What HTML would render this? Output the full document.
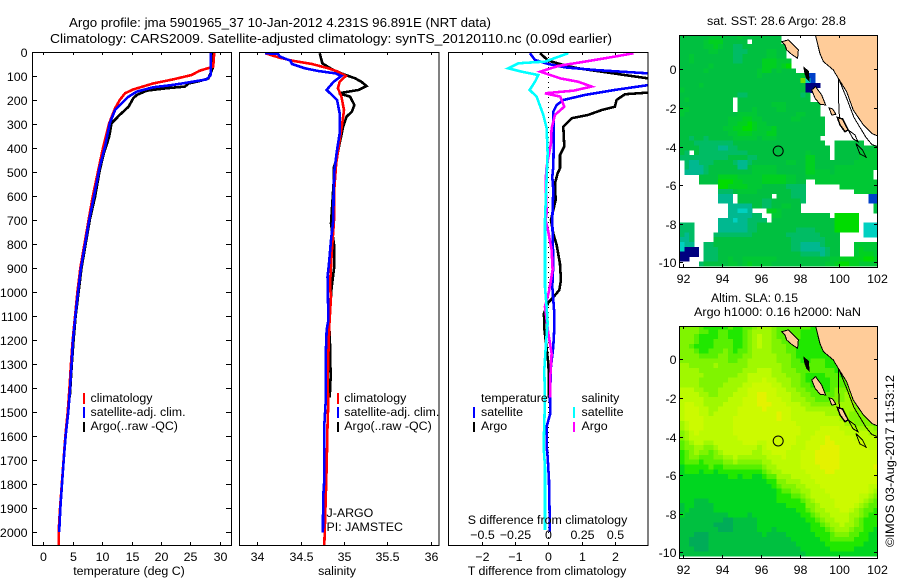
<!DOCTYPE html>
<html lang="en">
<head>
<meta charset="utf-8">
<title>Argo profile jma 5901965_37</title>
<style>
html,body{margin:0;padding:0;background:#fff;}
#chart{display:block;position:absolute;left:0;top:0;}
text{font-family:"Liberation Sans",sans-serif;font-size:12.4px;fill:#000;}
.frame{fill:none;stroke:#000;stroke-width:1;shape-rendering:crispEdges;}
.prof{fill:none;stroke-width:2.6;shape-rendering:crispEdges;stroke-linejoin:miter;}
.bar{shape-rendering:crispEdges;}
.tick{stroke:#000;stroke-width:1;shape-rendering:crispEdges;}
</style>
</head>
<body>
<svg id="chart" width="900" height="580" viewBox="0 0 900 580" xmlns="http://www.w3.org/2000/svg">
  <defs>
    <clipPath id="clip-t"><rect x="32" y="52" width="199" height="493"/></clipPath>
    <clipPath id="clip-s"><rect x="240" y="52" width="199" height="493"/></clipPath>
    <clipPath id="clip-d"><rect x="449" y="52" width="199" height="493"/></clipPath>
    <clipPath id="clip-m1"><rect x="679.5" y="35" width="198" height="232"/></clipPath>
    <clipPath id="clip-m2"><rect x="679.5" y="326" width="198" height="232"/></clipPath>
  </defs>
  <rect x="0" y="0" width="900" height="580" fill="#fff"/>
  <text x="69" y="27" style="font-size:13px" textLength="422" lengthAdjust="spacingAndGlyphs">Argo profile: jma 5901965_37 10-Jan-2012 4.231S 96.891E (NRT data)</text>
  <text x="50" y="43" style="font-size:13px" textLength="562" lengthAdjust="spacingAndGlyphs">Climatology: CARS2009. Satellite-adjusted climatology: synTS_20120110.nc (0.09d earlier)</text>

  <g id="panel-t"></g>
  <g id="panel-s"></g>
  <g id="panel-d"></g>
  <g id="panel-m1"></g>
  <g id="panel-m2"></g>

  <g>
    <rect class="bar" x="83" y="393" width="2" height="11" fill="#f00"/>
    <text x="90.5" y="402">climatology</text>
    <rect class="bar" x="83" y="407" width="2" height="11" fill="#00f"/>
    <text x="90.5" y="416">satellite-adj. clim.</text>
    <rect class="bar" x="83" y="422" width="2" height="10" fill="#000"/>
    <text x="90.5" y="430">Argo(..raw -QC)</text>
  </g>
  <g>
    <rect class="bar" x="337" y="393" width="2" height="11" fill="#f00"/>
    <text x="344.3" y="402">climatology</text>
    <rect class="bar" x="337" y="407" width="2" height="11" fill="#00f"/>
    <text x="344.3" y="416">satellite-adj. clim.</text>
    <rect class="bar" x="337" y="422" width="2" height="10" fill="#000"/>
    <text x="344.3" y="430">Argo(..raw -QC)</text>
    <text x="326.5" y="517">J-ARGO</text>
    <text x="326.5" y="531">PI: JAMSTEC</text>
  </g>
  <g>
    <text x="481" y="402">temperature</text>
    <rect class="bar" x="473" y="407" width="2" height="11" fill="#00f"/>
    <text x="481" y="416">satellite</text>
    <rect class="bar" x="473" y="422" width="2" height="10" fill="#000"/>
    <text x="481" y="430">Argo</text>
    <text x="581.5" y="402">salinity</text>
    <rect class="bar" x="573" y="407" width="2" height="11" fill="#0ff"/>
    <text x="581.5" y="416">satellite</text>
    <rect class="bar" x="573" y="422" width="2" height="10" fill="#f0f"/>
    <text x="581.5" y="430">Argo</text>
  </g>

  <text x="129" y="575" text-anchor="middle">temperature (deg C)</text>
  <text x="337" y="575" text-anchor="middle">salinity</text>
  <text x="547" y="575" text-anchor="middle">T difference from climatology</text>
  <text x="547.5" y="524" text-anchor="middle">S difference from climatology</text>
  <text x="707" y="25" textLength="139" lengthAdjust="spacingAndGlyphs">sat. SST: 28.6 Argo: 28.8</text>
  <text x="711" y="302" textLength="87" lengthAdjust="spacingAndGlyphs">Altim. SLA: 0.15</text>
  <text x="694" y="316" textLength="167" lengthAdjust="spacingAndGlyphs">Argo h1000: 0.16 h2000: NaN</text>
  <text transform="translate(894,547) rotate(-90)" textLength="172" lengthAdjust="spacingAndGlyphs">©IMOS 03-Aug-2017 11:53:12</text>
</svg>

<script>
const depthTicks = [0,100,200,300,400,500,600,700,800,900,1000,1100,1200,1300,1400,1500,1600,1700,1800,1900,2000];
const tempTicks = [0,5,10,15,20,25,30];
const salTicks = [34,34.5,35,35.5,36];
const tDiffTicks = [-2,-1,0,1,2];
const sDiffTicks = [-0.5,-0.25,0,0.25,0.5];
const lonTicks = [92,94,96,98,100,102];
const latTicks = [0,-2,-4,-6,-8,-10];
const floatLon = [96.891];
const floatLat = [-4.231];

const tempClimDepth = [0,61,78,96,114,131,156,172,200,235,297,394,492,603,700,800,900,1000,1100,1200,1300,1400,1500,1600,1700,1800,1900,2000,2054];
const tempClimVal = [29.08,28.9,26.6,25.2,22.1,18.7,15.3,13.9,13,12.2,11.2,10.2,9.35,8.4,7.7,7,6.3,5.8,5.4,5,4.7,4.45,4.15,3.75,3.45,3.15,2.85,2.6,2.6];
const tempSatDepth = [0,96,114,121,137,147,165,186,214,242,297,394,478,603,700,800,900,1000,1100,1200,1300,1400,1500,1600,1700,1800,1900,2000];
const tempSatVal = [28.46,28.46,27.8,26.1,22.1,18.7,15.9,14.5,13.3,12.2,11.3,10.5,9.6,8.6,7.8,7.1,6.4,5.9,5.45,5.05,4.8,4.55,4.25,3.8,3.47,3.18,2.9,2.7];
const tempArgoDepth = [0,68,110,121,131,144,151,161,179,193,228,262,297,353,422,492,603,700,800,900,1000,1100,1200,1300,1440];
const tempArgoVal = [28.8,28.8,28.06,26.6,24.7,24.1,21,17.6,15.9,15.3,14.5,13,11.6,11.2,10.3,9.6,8.8,7.9,7.2,6.5,6,5.5,5.15,4.85,4.5];

const salClimDepth = [5,22,36,50,68,82,100,124,151,186,242,297,367,464,561,700,839,978,1019,1144,1256,1394,1450,1554,1728,1853,2054];
const salClimVal = [34.09,34.24,34.4,34.63,34.82,34.93,35.02,34.95,34.93,34.97,35,34.98,34.95,34.91,34.89,34.885,34.858,34.838,34.85,34.83,34.82,34.81,34.82,34.81,34.8,34.79,34.773];
const salSatDepth = [5,8,19,36,50,68,79,89,100,124,158,172,200,256,339,408,492,575,700,783,881,936,1117,1158,1256,1450,1554,1783,1853,2003];
const salSatVal = [34.09,34.24,34.26,34.38,34.4,34.55,34.7,34.9,34.97,34.88,34.8,34.84,34.92,34.95,34.95,34.92,34.89,34.88,34.877,34.85,34.827,34.81,34.82,34.8,34.79,34.79,34.773,34.773,34.76,34.757];
const salArgoDepth = [5,47,72,92,110,124,142,158,172,186,221,249,269,311,381,436,485,547,714,811,894,978,1117,1214,1353,1440];
const salArgoVal = [34.72,34.75,34.86,34.99,35.13,35.2,35.26,35.17,34.94,35.07,35.12,35.09,35.03,34.99,34.95,34.92,34.88,34.88,34.85,34.888,34.888,34.858,34.827,34.838,34.846,34.835];

const dTSatDepth = [5,33,50,64,75,89,110,138,158,179,200,221,249,339,478,520,575,700,881,978,1089,1151,1228,1311,1443,1506,1561,1644,1686,1783,1999];
const dTSatVal = [-0.55,-0.4,0,0.5,1.4,3,4.5,3,2,1.1,0.45,0.25,0.15,0.17,0.15,0.12,0.15,0.12,0.15,0.12,0.18,0.18,0.15,0.08,0.05,0.06,-0.05,-0.05,-0.02,0.02,0.05];
const dTArgoDepth = [5,36,58,68,90,130,169,176,200,228,242,262,276,311,394,429,485,506,547,617,700,756,804,881,950,992,1022,1044,1089,1151,1297,1353,1440];
const dTArgoVal = [-0.25,0,0.55,0.9,2,4,3,2.3,2.05,2,1.6,1.2,0.7,0.45,0.48,0.35,0.35,0.28,0.2,0.22,0.08,0.15,0.25,0.35,0.38,0.33,0.15,0,-0.13,-0.12,0,0.02,0.02];
const dSSatDepth = [5,40,47,68,82,96,124,158,186,262,318,422,561,700,978,1061,1130,1214,1325,1450,1547,1644,1728,1992];
const dSSatVal = [0.15,-0.025,-0.225,-0.3,-0.2,-0.075,-0.1,-0.14,-0.0875,-0.0375,-0.0125,-0.005,-0.015,-0.025,-0.025,-0.0125,-0.005,-0.0175,-0.03,-0.025,-0.03,-0.035,-0.025,-0.025];
const dSArgoDepth = [5,19,40,58,82,110,124,144,161,172,186,228,262,318,381,478,533,672,700,749,825,908,998,1061,1172,1256,1353,1440];
const dSArgoVal = [0.64,0.5,0.275,0.075,-0.06,0.09,0.225,0.325,0.19,-0.025,0.09,0.12,0.05,0.025,0.02,-0.0125,-0.02,-0.0125,-0.02,0,0.025,0.0325,0.005,-0.025,0,0.025,0.015,0.015];

const _ = null;
const sstColours = ["#000080","#0040c8","#00d0c0","#00b890","#00bc64","#00c040","#00c834","#00d020","#00dc00","#70e000"];
const slaColours = ["#00ac58","#00c040","#00d620","#20e800","#58f000","#80f400","#a0f800","#bcfb00","#ccfa00","#e4f200"];

const sstGrid = [
[5,5,5,5,5,5,6,6,6,5,5,5,6,5,5,5,5,5,5,5,5],
[5,5,5,5,5,6,7,7,7,5,5,5,5,5,_,5,5,5,5,5,5],
[5,5,5,5,5,6,6,7,6,5,5,4,4,5,5,5,5,5,5,5,5,5],
[5,5,5,5,5,5,6,6,5,5,5,4,4,4,5,5,5,5,6,6,5,5],
[5,5,6,5,5,5,5,5,5,5,5,4,4,5,5,5,5,5,6,6,5,5],
[5,5,6,5,5,5,5,5,5,5,5,4,4,5,5,5,5,7,7,7,6,6,6],
[5,5,5,5,5,5,6,5,5,5,5,5,5,5,5,5,5,7,7,7,6,7,8],
[5,5,5,5,5,6,5,5,5,5,5,5,5,5,5,5,6,7,7,5,6,5,5,5],
[5,5,5,5,5,5,5,5,5,5,5,5,5,5,5,5,6,5,5,5,5,5,5,5,5,6,1,1],
[5,5,5,5,5,5,5,5,5,5,5,5,5,5,5,5,5,5,5,5,5,5,5,5,5,9,2,1],
[5,5,5,5,6,5,5,5,5,5,5,5,5,5,5,5,5,5,5,5,5,5,5,5,5,5,0,0,0],
[6,5,5,5,5,5,5,5,5,5,5,5,5,5,5,5,5,5,5,5,5,5,5,5,5,5,0,0],
[5,5,5,5,5,5,5,5,5,5,5,5,4,4,5,5,5,5,5,5,5,5,5,5,5,4,5],
[5,6,5,5,5,5,5,5,5,5,5,_,5,5,5,5,5,5,5,5,5,5,5,5,5,5,5],
[5,5,5,5,5,5,5,5,5,5,5,_,5,5,5,5,5,5,5,6,6,6,5,5,5,5,5,5,5],
[6,6,5,5,5,5,5,5,5,5,5,_,5,5,5,6,5,5,5,5,6,6,5,5,5,5,5,5,5],
[6,5,5,5,5,5,5,5,5,5,5,5,6,6,6,6,5,5,5,5,5,5,5,5,6,6,5,5,5],
[5,5,5,5,5,5,5,5,5,5,6,6,6,7,7,6,6,5,5,5,5,5,5,6,6,5,5,5,5,5],
[5,5,5,5,5,5,5,5,5,5,6,6,7,7,8,7,6,6,5,5,5,5,5,5,5,5,5,5,5,5],
[5,5,5,5,5,5,5,5,5,6,6,7,7,8,8,7,6,6,6,7,5,5,5,5,5,5,5,5,5,5],
[5,5,5,5,5,5,5,5,5,5,6,6,7,7,7,6,6,6,7,7,5,5,5,5,5,5,5,5,5,5],
[5,5,4,5,5,4,5,5,5,5,5,6,6,6,6,6,5,6,6,6,5,5,5,5,5,5,5,5,5],
[5,5,5,4,4,4,4,4,4,4,4,5,5,5,5,5,5,5,5,5,5,5,5,5,5,5,5,5,5,5,_,_,5,5,5,5,5,5],
[5,5,5,5,4,4,4,4,3,3,4,4,5,5,5,5,5,5,5,5,5,5,5,5,5,5,5,5,5,5,5,_,5,5,5,5,5,5,5,5,6],
[5,4,_,5,4,4,4,4,4,4,4,4,4,4,5,5,5,5,5,5,5,5,5,5,5,5,6,5,5,5,5,_,5,5,5,5,5,6,6,6,6],
[4,4,4,4,4,4,4,4,4,4,5,5,5,5,4,4,5,5,5,5,5,5,5,5,5,5,7,7,5,5,5,_,5,5,5,5,5,6,6,6,6],
[_,4,3,3,4,4,4,5,5,5,5,4,3,3,4,5,5,5,5,5,5,5,6,6,5,5,7,7,5,5,5,5,5,5,5,5,6,6,6,6,6],
[_,4,3,3,3,4,5,5,5,5,5,5,3,3,5,6,6,6,6,6,5,5,5,5,5,5,7,7,5,5,5,5,6,6,6,6,6,6,6,6,6],
[_,3,3,3,3,4,5,5,5,5,5,5,5,5,5,6,6,6,6,6,5,5,5,5,5,5,7,7,6,6,6,5,6,6,6,6,6,6,6,6],
[_,_,_,_,5,5,5,5,7,7,7,7,6,6,6,6,6,7,7,7,7,7,6,6,5,5,6,6,6,6,6,6,6,6,6,6,6,6,6,6],
[_,_,_,_,5,5,5,5,8,8,8,7,7,6,6,6,6,7,7,7,7,7,6,6,5,5,_,_,6,6,6,6,6,6,6,6,6,6,6,6,6],
[_,_,_,_,_,_,_,_,8,8,7,7,7,7,6,6,6,5,5,5,5,5,4,4,4,4,_,_,_,_,_,_,_,6,6,6,6,6,6,6,6],
[_,_,_,_,_,_,_,_,4,4,4,5,6,6,6,6,5,5,5,5,5,5,5,4,4,4,_,_,_,_,_,_,_,_,_,_,6,6,6,6,6],
[_,_,_,_,_,_,_,_,3,3,3,_,5,5,5,5,5,5,5,_,5,5,5,4,4,4,_,_,_,_,_,_,_,_,_,_,_,_,_,1,1],
[_,_,_,_,_,_,_,_,3,3,3,_,5,5,5,5,5,4,4,5,5,5,5,5,5,4,_,_,_,_,_,_,_,_,_,_,_,_,_,1,1],
[_,_,_,_,_,_,_,_,_,_,3,3,3,3,3,5,5,4,4,5,5,6,6,5,5,_,_,_,_,_,_,_,_,_,_,_,_,_,_,_,5],
[_,_,_,_,_,_,_,_,_,_,3,3,2,2,3,_,_,_,7,7,6,5,5,5,5,_,_,_,_,_,_,_,_,_,_,_,_,_,_,_,5],
[_,_,_,_,_,_,_,_,_,_,3,3,3,3,3,4,4,_,_,6,6,5,5,5,5,5,5,5,5,5,5,_,8,8,8,8,8],
[_,_,_,_,_,_,_,_,3,3,3,2,3,3,4,4,4,4,_,5,5,5,5,5,5,5,5,5,5,5,5,5,8,8,8,8,8],
[4,4,4,_,_,_,_,_,3,3,3,3,3,3,4,4,5,5,5,5,5,5,5,5,5,5,5,5,5,5,5,5,8,8,8,8,8,_,2,2,2],
[4,4,4,_,_,_,_,_,3,3,3,3,3,3,4,4,5,5,5,5,5,5,5,5,4,4,4,4,5,5,5,5,8,8,8,8,8,_,2,2,2],
[4,3,4,_,_,_,_,4,4,4,4,4,4,4,4,5,5,5,5,5,5,5,4,4,4,4,4,4,4,5,5,5,5,_,_,_,_,_,2,2,2],
[3,3,4,_,_,_,_,5,5,5,5,5,5,5,5,5,5,5,5,5,5,5,5,4,4,4,4,4,4,4,5,5,5],
[2,3,3,_,_,4,4,5,5,5,5,5,5,5,5,5,5,5,5,5,5,5,5,4,4,3,3,3,3,4,5,5,5,_,_,_,6,6,6,6,6],
[2,0,0,0,_,4,4,4,5,5,5,5,5,5,5,5,5,5,5,5,5,5,5,4,4,3,3,3,3,3,4,5,5,_,_,_,6,7,6,6,6],
[0,0,0,0,_,4,4,4,5,5,5,5,5,5,5,5,5,5,5,5,5,5,5,5,5,4,4,4,4,3,4,5,5,_,_,_,6,7,7,7,6],
[0,0,_,_,_,4,4,4,5,5,6,5,5,6,6,6,6,6,6,6,5,5,5,5,5,5,5,5,5,5,5,6,6,7,7,7,7,7,8,8,7],
[_,_,_,_,4,5,5,5,5,5,6,6,5,6,7,6,6,6,6,5,5,5,5,5,5,5,5,5,5,5,6,6,7,8,8,7,7,6,6,6,6]
];

const slaGrid = [
[5,5,5,5,4,3,3,3,3,3,4,3,3,4,4,5,6,6,6,5,4,4,4,4,4,4,4,3,3,3,3,3,3,3,3,3,3,3,3,3,3],
[5,5,5,5,4,4,3,3,4,4,3,3,3,4,5,6,6,6,6,5,4,4,4,4,4,3,3,3,3,3,3,3,3,3,3,3,3,3,3,3,3],
[5,5,5,4,3,3,3,3,4,4,3,3,3,4,5,6,7,6,6,5,4,4,4,4,4,3,3,3,3,3,3,3,3,3,3,3,3,3,3,3,3],
[5,5,5,4,3,3,3,4,4,4,4,3,3,4,5,6,7,6,6,5,5,4,4,4,3,3,3,3,3,3,3,3,3,3,3,3,3,3,3,3,3],
[5,5,4,3,3,3,3,4,4,4,4,3,3,4,5,6,7,6,6,5,5,5,4,4,3,3,3,3,3,3,3,3,3,3,3,3,3,3,3,3,3],
[5,5,5,4,3,3,4,4,4,5,4,3,4,4,5,6,6,6,6,5,5,5,4,4,3,3,3,3,3,3,3,3,3,3,3,3,3,3,3,3,3],
[5,5,5,5,4,4,4,4,5,5,4,4,4,5,5,6,6,6,6,6,5,5,5,4,3,3,3,3,3,3,3,3,3,3,3,3,3,3,3,3,3],
[5,5,5,5,5,5,5,5,5,5,4,4,5,5,6,6,6,6,6,6,5,5,5,4,4,3,3,4,4,4,3,3,3,3,3,3,3,3,3,3,3],
[6,6,5,5,5,5,5,6,5,5,5,5,5,5,6,6,6,6,6,6,6,5,5,4,4,4,4,4,4,4,3,3,3,3,3,3,3,3,3,3,3],
[6,6,6,6,5,5,5,5,5,5,5,5,5,6,6,6,7,7,7,6,6,5,5,5,4,4,4,4,4,4,4,4,3,3,3,3,3,3,3,3,3],
[6,6,6,6,6,5,5,5,5,5,5,5,6,6,7,7,7,7,7,6,6,6,5,5,5,4,3,3,3,3,4,4,4,3,3,3,3,3,3,3,3],
[6,6,6,6,5,5,5,5,5,5,6,6,6,6,7,7,7,8,7,7,6,6,6,5,5,4,3,3,3,3,3,4,4,4,4,3,3,3,3,3,3],
[6,6,6,6,5,5,5,5,5,6,6,6,6,7,7,8,8,8,8,7,7,6,6,5,5,4,4,3,3,3,3,4,4,4,4,4,3,3,3,3,3],
[7,7,7,6,6,5,5,5,6,6,6,6,7,7,8,8,8,8,8,8,7,7,6,6,5,5,4,4,4,3,3,4,5,5,5,5,4,4,4,4,4],
[7,7,7,7,6,6,5,5,6,6,6,7,7,7,8,8,9,9,8,8,7,7,7,6,6,5,5,4,4,4,4,4,5,5,6,6,5,5,5,5,5],
[7,7,7,7,7,6,6,6,6,6,7,7,7,8,8,8,9,9,8,8,8,7,7,6,6,6,5,5,4,4,4,5,5,5,6,6,5,5,5,5,5],
[7,8,8,7,7,6,6,6,6,7,7,7,7,8,8,8,9,9,9,8,8,8,7,7,7,6,6,5,5,5,5,5,6,6,6,6,5,5,5,5,5],
[7,8,8,8,7,7,6,6,7,7,7,7,8,8,8,8,8,9,8,8,8,8,8,7,7,7,6,6,6,6,6,6,6,6,6,6,5,5,5,5,5],
[7,8,8,8,7,7,6,7,7,7,7,7,8,8,8,8,8,8,8,8,9,8,8,7,7,7,7,7,7,7,6,6,6,6,6,5,5,5,5,5,5],
[7,8,8,8,8,7,7,7,7,7,7,8,8,8,8,8,8,8,8,8,9,8,8,7,7,7,7,7,7,7,7,7,7,6,6,5,5,5,5,5,5],
[6,7,8,8,8,7,7,7,7,7,7,8,8,8,8,8,8,8,8,8,8,8,8,8,7,7,7,7,7,7,7,7,7,7,6,6,5,5,5,5,4],
[6,7,8,8,8,7,7,7,7,7,7,8,8,8,8,8,8,8,8,8,8,8,8,8,8,7,7,7,7,8,8,8,8,7,7,7,6,6,6,6,5],
[5,6,7,8,7,7,7,7,7,7,7,8,8,8,8,8,8,8,8,8,8,8,8,8,8,7,7,7,8,8,8,8,8,8,7,7,7,7,7,6,6],
[5,6,7,7,7,7,7,7,7,7,7,7,8,8,8,8,8,8,8,8,8,8,8,8,7,7,7,8,8,8,9,8,8,8,8,8,7,7,7,7,7],
[4,5,6,7,7,6,6,7,7,7,7,7,7,8,8,8,7,7,8,8,8,8,8,8,7,7,8,8,8,8,9,9,8,8,8,8,8,8,7,7,7],
[4,5,5,6,6,5,5,6,7,7,7,7,7,7,7,7,6,7,8,8,8,8,8,7,7,7,8,8,8,9,9,9,9,8,8,8,8,8,8,7,7],
[3,4,5,6,5,5,4,5,6,7,7,7,7,7,7,6,6,7,7,8,8,8,7,7,7,8,8,8,9,9,9,9,9,8,8,8,8,8,8,8,8],
[3,4,5,5,4,4,4,5,5,6,6,7,6,6,6,6,6,6,7,7,7,8,7,7,7,8,8,8,9,9,9,9,9,8,8,8,8,8,8,8,8],
[3,4,4,4,3,4,4,4,4,5,5,6,5,5,5,5,5,6,6,7,7,7,7,7,7,8,8,8,9,9,9,9,9,8,8,8,8,8,8,8,8],
[2,3,3,3,3,3,4,3,3,4,4,4,4,4,4,4,4,5,6,6,7,7,7,7,7,8,8,8,8,9,9,9,9,8,8,8,8,8,8,8,9],
[2,3,3,3,2,3,3,2,3,3,3,3,3,3,3,3,3,4,5,6,6,7,7,7,7,7,8,8,8,8,9,9,8,8,8,8,8,8,8,8,8],
[2,2,2,2,2,2,2,2,2,2,3,3,2,3,3,2,2,3,4,4,6,6,6,7,7,7,7,8,8,8,8,8,8,8,8,8,8,8,8,8,8],
[2,2,2,2,2,2,2,2,2,2,2,2,2,2,2,2,2,2,3,3,5,5,6,6,6,7,7,7,8,8,8,8,8,8,8,8,8,8,8,8,8],
[2,2,2,2,2,2,2,2,2,2,2,2,2,2,2,2,2,2,2,3,4,5,5,5,6,6,7,7,7,8,8,8,8,8,8,8,8,8,8,7,7],
[2,2,2,2,2,2,2,2,2,2,2,2,2,2,2,2,2,2,2,2,3,4,4,5,5,6,6,7,7,7,8,8,8,8,8,8,8,8,8,7,6],
[2,2,2,2,2,2,2,2,2,2,2,2,2,2,2,2,2,2,2,2,3,3,3,4,4,5,6,7,7,7,7,8,8,8,8,8,8,7,7,6,5],
[2,2,2,1,1,1,2,2,2,2,2,2,2,2,2,2,2,2,2,2,3,3,3,3,3,4,5,6,7,7,7,7,8,8,8,8,8,7,6,5,4],
[1,2,2,1,1,1,1,2,2,2,2,2,2,2,2,2,2,2,2,2,2,2,3,3,3,3,5,5,6,7,7,7,8,8,8,8,7,6,5,4,4],
[1,2,1,1,1,1,1,2,2,2,2,2,2,2,2,2,2,2,2,2,2,2,2,2,3,3,4,5,6,6,7,7,7,8,8,7,6,5,4,4,3],
[2,1,1,1,1,1,1,1,1,1,2,2,2,2,1,2,2,2,2,2,2,2,2,2,2,3,3,4,5,6,6,7,7,7,7,6,6,5,4,3,3],
[1,1,1,1,1,1,1,1,1,0,0,1,1,1,1,1,2,2,2,2,2,2,2,2,2,2,3,3,4,5,6,6,7,7,7,6,5,4,3,3,3],
[1,1,1,1,1,1,1,0,0,0,0,1,1,1,1,1,2,2,2,2,2,2,2,2,2,2,2,3,3,4,5,6,6,7,6,6,5,4,3,3,3],
[1,1,1,1,1,1,1,1,0,0,0,1,1,1,1,1,2,2,2,1,2,2,2,2,2,2,2,3,3,3,4,5,6,6,6,5,4,4,3,3,2],
[1,1,1,0,0,0,1,1,1,1,1,1,1,1,1,1,1,2,1,1,1,1,2,2,2,2,2,2,3,3,3,4,5,5,5,4,4,3,3,2,2],
[1,1,0,0,0,0,1,1,1,1,1,1,1,1,1,1,1,1,1,1,1,1,1,2,2,2,2,2,2,3,3,4,4,4,4,4,3,3,3,2,2],
[1,1,0,0,0,0,1,1,1,1,1,1,1,1,1,1,1,1,1,1,1,1,1,1,2,2,2,2,2,2,3,3,3,3,3,3,3,3,2,2,2],
[1,1,1,0,0,0,1,1,1,1,1,1,1,1,1,1,1,1,1,1,1,1,1,1,1,2,2,2,2,2,2,3,3,3,3,3,2,2,2,2,2],
[1,1,1,1,1,1,1,1,1,1,1,1,1,1,1,1,1,1,1,1,1,1,1,1,1,1,2,2,2,2,2,2,2,2,2,2,2,2,2,2,2]
];

const mainlandLon = [98.79,99.04,99.22,99.73,99.99,100.42,100.76,101.28,101.71,102,102.1,102.1,98.79];
const mainlandLat = [1.85,0.83,0.4,-0.03,-0.47,-1.16,-2.11,-2.88,-3.32,-3.45,-3.45,1.85,1.85];
const simeulueLon = [97.07,97.41,97.67,97.93,97.89,97.58,97.33,97.24];
const simeulueLat = [1.43,1.52,1.26,1,0.57,0.78,1,1.26];
const batuLon = [98.22,98.44,98.49,98.36,98.27];
const batuLat = [0.09,-0.09,-0.6,-0.46,-0.21];
const niasLon = [98.62,98.82,99.13,99.34,99.05,98.79];
const niasLat = [-1.07,-0.9,-1.33,-1.85,-1.81,-1.5];
const tanahLon = [99.51,99.7,99.87,99.65];
const tanahLat = [-1.99,-2.06,-2.33,-2.37];
const siberutLon = [99.94,100.21,100.5,100.33,100.08];
const siberutLat = [-2.5,-2.57,-3.14,-3.23,-2.88];
const siporaLon = [100.5,100.85,101,100.75];
const siporaLat = [-3.14,-3.4,-3.75,-3.6];
const pagaiLon = [100.9,101.25,101.42,101.1];
const pagaiLat = [-3.85,-4.2,-4.55,-4.38];
const contourALon = [100,100,100.05];
const contourALat = [-0.47,-1.5,-2.54];
const contourBLon = [100,100.42,100.8,101.4,101.72,102];
const contourBLat = [-0.47,-1.5,-2.5,-3.5,-3.9,-4];

const NS = 'http://www.w3.org/2000/svg';
function mk(parent, tag, attrs) {
  const e = document.createElementNS(NS, tag);
  for (const k in attrs) e.setAttribute(k, attrs[k]);
  parent.appendChild(e);
  return e;
}

const depthY = d => 52 + 0.24 * d;
const tempX = t => 43.3 + 5.88 * t;
const salX = s => 257.3 + 86.7 * (s - 34);
const dTX = v => 548.3 + 33.3 * v;
const dSX = v => 548.3 + 133.3 * v;
const lonX = lon => 683.3 + 19.4 * (lon - 92);
const map1Y = lat => 69.3 - 19.3 * lat;
const map2Y = lat => 359.3 - 19.3 * lat;

function pts(xs, ys, fx, fy) {
  return xs.map((v, i) => fx(v).toFixed(2) + ',' + fy(ys[i]).toFixed(2)).join(' ');
}
function profile(parent, depths, vals, fx, colour, clip) {
  return mk(parent, 'polyline', {
    class: 'prof', stroke: colour, 'clip-path': 'url(#' + clip + ')',
    points: vals.map((v, i) => fx(v).toFixed(2) + ',' + depthY(depths[i]).toFixed(2)).join(' ')
  });
}
function tick(parent, x1, y1, x2, y2) {
  const t = mk(parent, 'line', { class: 'tick', x1, y1, x2, y2 });
  
  
  return t;
}
function label(parent, x, y, txt, anchor) {
  const t = mk(parent, 'text', { x, y, 'text-anchor': anchor });
  t.textContent = txt;
  
  
  return t;
}
function frame(parent, x, y, w, h) {
  const f = mk(parent, 'rect', { class: 'frame', x, y, width: w, height: h });
  
  
  return f;
}

function depthAxis(parent, left, right, withLabels) {
  depthTicks.forEach(d => {
    const y = Math.round(depthY(d)) + 0.5;
    tick(parent, left, y, left + 5, y);
    tick(parent, right - 5, y, right, y);
    if (withLabels) label(parent, 27.5, y + 4.5, String(d), 'end');
  });
}
function xAxis(parent, ticks, fx, top, bottom, yLabel, fmt) {
  ticks.forEach(v => {
    const x = Math.round(fx(v)) + 0.5;
    tick(parent, x, top, x, top + 3);
    tick(parent, x, bottom - 3, x, bottom);
    if (yLabel) label(parent, x, yLabel, fmt(v), 'middle');
  });
}

/* temperature */
const gT = document.getElementById('panel-t');
const tBlack = profile(gT, tempArgoDepth, tempArgoVal, tempX, '#000', 'clip-t');


const tRed = profile(gT, tempClimDepth, tempClimVal, tempX, '#f00', 'clip-t');


const tBlue = profile(gT, tempSatDepth, tempSatVal, tempX, '#00f', 'clip-t');


frame(gT, 32.5, 52.5, 199, 493);
depthAxis(gT, 32, 231, true);
xAxis(gT, tempTicks, tempX, 52, 545, 561, v => String(v));

/* salinity */
const gS = document.getElementById('panel-s');
const sBlack = profile(gS, salArgoDepth, salArgoVal, salX, '#000', 'clip-s');


const sRed = profile(gS, salClimDepth, salClimVal, salX, '#f00', 'clip-s');


const sBlue = profile(gS, salSatDepth, salSatVal, salX, '#00f', 'clip-s');


frame(gS, 239.5, 52.5, 199.5, 493);
xAxis(gS, salTicks, salX, 52, 545, 561, v => String(v));

/* differences */
const gD = document.getElementById('panel-d');
const zeroLine = mk(gD, 'line', {
  x1: dTX(0), y1: 52, x2: dTX(0), y2: 545, stroke: '#000', 'stroke-width': 1, 'stroke-dasharray': '1 4', 'shape-rendering': 'crispEdges'
});


const dBlack = profile(gD, dTArgoDepth, dTArgoVal, dTX, '#000', 'clip-d');


const dBlue = profile(gD, dTSatDepth, dTSatVal, dTX, '#00f', 'clip-d');


const dMag = profile(gD, dSArgoDepth, dSArgoVal, dSX, '#f0f', 'clip-d');


const dCyan = profile(gD, dSSatDepth, dSSatVal, dSX, '#0ff', 'clip-d');


frame(gD, 448.5, 52.5, 199.5, 493);
xAxis(gD, tDiffTicks, dTX, 52, 545, 561, v => v < 0 ? '\u2212' + (-v) : String(v));
sDiffTicks.forEach(v => {
  label(gD, Math.round(dSX(v)) + 0.5, 539, v < 0 ? '\u2212' + (-v) : String(v), 'middle');
});

/* maps */
function drawGrid(parent, grid, colours, fy, clip) {
  const g = mk(parent, 'g', { 'clip-path': 'url(#' + clip + ')', 'shape-rendering': 'crispEdges' });
  
  
  grid.forEach((row, r) => {
    const lat0 = 1.8 - 0.25 * r;
    row.forEach((v, c) => {
      if (v === null || v === undefined) return;
      const lon0 = 91.8 + 0.25 * c;
      const x = lonX(lon0), y = fy(lat0);
      const cell = mk(g, 'rect', {
        x: x.toFixed(2), y: y.toFixed(2),
        width: (lonX(lon0 + 0.25) - x + 0.3).toFixed(2),
        height: (fy(lat0 - 0.25) - y + 0.3).toFixed(2),
        fill: colours[v]
      });
      
      
    });
  });
}
function geoShape(parent, lons, lats, fy, clip, fill, sw) {
  return mk(parent, 'polygon', {
    points: pts(lons, lats, lonX, fy), fill: fill, stroke: '#000', 'stroke-width': sw,
    'clip-path': 'url(#' + clip + ')', 'shape-rendering': 'crispEdges'
  });
}
function geoLine(parent, lons, lats, fy, clip) {
  return mk(parent, 'polyline', {
    points: pts(lons, lats, lonX, fy), fill: 'none', stroke: '#000', 'stroke-width': 1,
    'clip-path': 'url(#' + clip + ')', 'shape-rendering': 'crispEdges'
  });
}
function drawCoast(parent, fy, clip) {
  const land = geoShape(parent, mainlandLon, mainlandLat, fy, clip, '#ffcc99', 1);
  
  
  const isl1 = geoShape(parent, simeulueLon, simeulueLat, fy, clip, '#ffcc99', 1);
  
  
  const isl2 = geoShape(parent, batuLon, batuLat, fy, clip, '#000', 1);
  
  
  const isl3 = geoShape(parent, niasLon, niasLat, fy, clip, '#ffcc99', 1);
  
  
  const isl4 = geoShape(parent, tanahLon, tanahLat, fy, clip, '#ffcc99', 1);
  
  
  const isl5 = geoShape(parent, siberutLon, siberutLat, fy, clip, '#ffcc99', 1.5);
  
  
  const isl6 = geoShape(parent, siporaLon, siporaLat, fy, clip, 'none', 1);
  
  
  const isl7 = geoShape(parent, pagaiLon, pagaiLat, fy, clip, 'none', 1);
  
  
  const c1 = geoLine(parent, contourALon, contourALat, fy, clip);
  
  
  const c2 = geoLine(parent, contourBLon, contourBLat, fy, clip);
  
  
}
function mapAxes(parent, fy, top, bottom, yLabel) {
  const f = frame(parent, 679.5, top + 0.5, 198, bottom - top);
  
  lonTicks.forEach(lon => {
    const x = Math.round(lonX(lon)) + 0.5;
    tick(parent, x, top, x, top + 3);
    tick(parent, x, bottom - 3, x, bottom);
    label(parent, x, yLabel, String(lon), 'middle');
  });
  latTicks.forEach(lat => {
    const y = Math.round(fy(lat)) + 0.5;
    tick(parent, 680, y, 683, y);
    tick(parent, 874, y, 877, y);
    label(parent, 676.5, y + 4.5, String(lat), 'end');
  });
}

const gM1 = document.getElementById('panel-m1');
drawGrid(gM1, sstGrid, sstColours, map1Y, 'clip-m1');
drawCoast(gM1, map1Y, 'clip-m1');
const dot1 = mk(gM1, 'circle', { cx: lonX(floatLon[0]), cy: map1Y(floatLat[0]), r: 5, fill: 'none', stroke: '#000', 'stroke-width': 1 });


mapAxes(gM1, map1Y, 35, 267, 283);

const gM2 = document.getElementById('panel-m2');
drawGrid(gM2, slaGrid, slaColours, map2Y, 'clip-m2');
drawCoast(gM2, map2Y, 'clip-m2');
const dot2 = mk(gM2, 'circle', { cx: lonX(floatLon[0]), cy: map2Y(floatLat[0]), r: 5, fill: 'none', stroke: '#000', 'stroke-width': 1 });


mapAxes(gM2, map2Y, 326, 558, 574);
</script>
</body>
</html>
